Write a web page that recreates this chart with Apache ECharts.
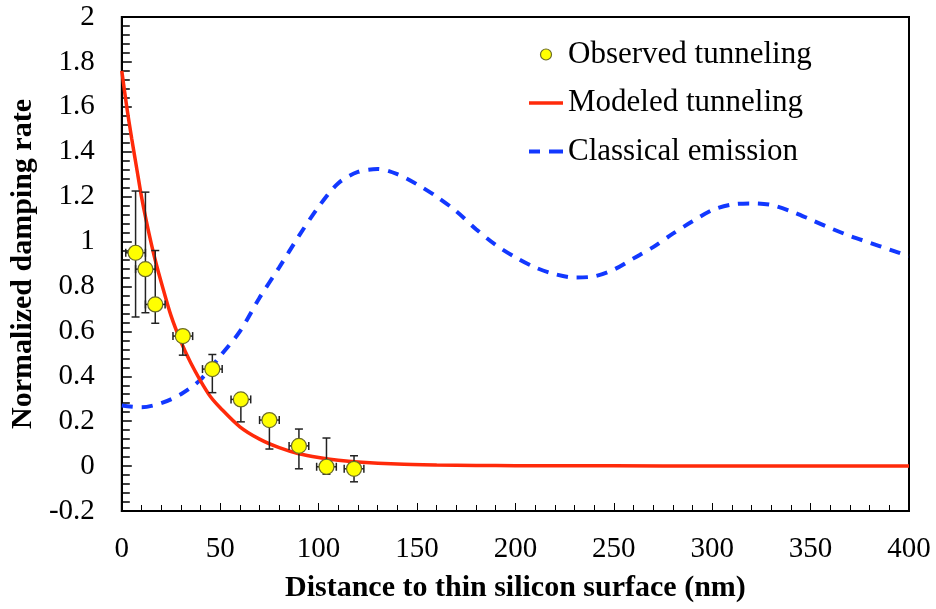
<!DOCTYPE html>
<html>
<head>
<meta charset="utf-8">
<script src="https://cdn.jsdelivr.net/npm/echarts@6/dist/echarts.min.js"></script>
<style>html,body{margin:0;padding:0;background:#fff}#c{width:936px;height:609px}</style>
</head>
<body>
<div id="c"></div>
<script>
// Observed tunneling (points with error bars)
const obsX    = [7, 12, 17, 31, 46, 60.5, 75, 90, 104, 118];
const obsY    = [0.95, 0.877, 0.72, 0.579, 0.432, 0.297, 0.205, 0.09, -0.003, -0.012];
const obsLow  = [0.664, 0.683, 0.636, 0.494, 0.327, 0.197, 0.076, -0.012, -0.036, -0.07];
const obsHigh = [1.225, 1.22, 0.96, 0.579, 0.497, 0.297, 0.205, 0.165, 0.125, 0.046];
const obsXErr = [5, 5, 5, 5, 5, 5, 5, 5, 5, 5];

// Modeled tunneling (red line)
const modX = [0, 2.5, 5, 7.5, 10, 12.5, 15, 17.5, 20, 25, 30, 35, 40, 45, 50, 60, 70, 80, 90, 100, 110, 120, 140, 160, 180, 200, 250, 300, 350, 400];
const modY = [1.76, 1.60, 1.46, 1.33, 1.20, 1.09, 0.99, 0.90, 0.82, 0.67, 0.555, 0.46, 0.38, 0.31, 0.26, 0.175, 0.12, 0.082, 0.055, 0.038, 0.026, 0.018, 0.009, 0.005, 0.003, 0.002, 0.001, 0, 0, 0];

// Classical emission (blue dashed)
const clsX = [0, 10, 20, 30, 40, 50, 60, 70, 80, 90, 100, 110, 120, 130, 140, 150, 160, 170, 180, 190, 200, 210, 220, 230, 240, 250, 260, 270, 280, 290, 300, 310, 320, 330, 340, 350, 360, 370, 380, 390, 400];
const clsY = [0.27, 0.262, 0.28, 0.32, 0.385, 0.49, 0.60, 0.75, 0.885, 1.025, 1.155, 1.26, 1.31, 1.323, 1.30, 1.255, 1.20, 1.135, 1.055, 0.985, 0.93, 0.885, 0.855, 0.84, 0.845, 0.875, 0.925, 0.975, 1.035, 1.09, 1.14, 1.165, 1.17, 1.163, 1.135, 1.098, 1.06, 1.025, 0.995, 0.965, 0.935];

const xTicks = {min: 0, max: 400, interval: 50};
const yTicks = {min: -0.2, max: 2, interval: 0.2};

const FONT = '"Liberation Serif", "Times New Roman", serif';
const RED = '#ff2a0a', BLUE = '#1238ff';
const chart = echarts.init(document.getElementById('c'), null, {renderer: 'canvas'});

const obsData = obsX.map((x, i) => [x, obsY[i]]);
const errData = obsX.map((x, i) => [x, obsY[i], obsLow[i], obsHigh[i], obsXErr[i]]);
const tickFmt = v => '{t|' + String(Math.round(v * 10) / 10) + '}';
const tickRich = {t: {fontFamily: FONT, fontSize: 29, color: '#000'}};

chart.setOption({
  animation: false,
  backgroundColor: '#fff',
  textStyle: {fontFamily: FONT, color: '#000'},
  grid: {left: 120, right: 27, top: 17, bottom: 98, show: true, borderColor: '#000', borderWidth: 2, backgroundColor: 'transparent'},
  legend: {
    orient: 'vertical', left: 529, top: 39, padding: 0, itemWidth: 34, itemHeight: 11, itemGap: 17.5,
    textStyle: {fontFamily: FONT, fontSize: 31, color: '#000', lineHeight: 31},
    data: [
      {name: 'Observed tunneling', icon: 'circle', itemStyle: {color: '#ffff00', borderColor: '#6b6b2a', borderWidth: 1.2}},
      {name: 'Modeled tunneling', icon: 'path://M0,0h34v3.5h-34z', itemStyle: {color: RED, borderWidth: 0}},
      {name: 'Classical emission', icon: 'path://M0,0h11v4h-11z M20,0h14v4h-14z', itemStyle: {color: BLUE, borderWidth: 0}}
    ]
  },
  xAxis: {
    type: 'value', min: xTicks.min, max: xTicks.max, interval: xTicks.interval,
    name: 'Distance to thin silicon surface (nm)', nameLocation: 'middle', nameGap: 62,
    nameTextStyle: {fontFamily: FONT, fontSize: 30, fontWeight: 'bold', color: '#000'},
    axisLine: {show: true, onZero: false, lineStyle: {color: '#000', width: 2}},
    axisTick: {show: true, inside: true, length: 8, lineStyle: {color: '#000', width: 1}},
    minorTick: {show: true, splitNumber: 5, length: 6, lineStyle: {color: '#000', width: 1}},
    axisLabel: {fontFamily: FONT, fontSize: 29, color: '#000', margin: 24, formatter: tickFmt, rich: tickRich},
    splitLine: {show: false}
  },
  yAxis: {
    type: 'value', min: yTicks.min, max: yTicks.max, interval: yTicks.interval,
    name: 'Normalized damping rate', nameLocation: 'middle', nameGap: 77, nameRotate: 90,
    nameTextStyle: {fontFamily: FONT, fontSize: 30, fontWeight: 'bold', color: '#000'},
    axisLine: {show: true, onZero: false, lineStyle: {color: '#000', width: 2}},
    axisTick: {show: true, inside: true, length: 10, lineStyle: {color: '#000', width: 1.5}},
    minorTick: {show: true, splitNumber: 5, length: 8, lineStyle: {color: '#000', width: 1.5}},
    axisLabel: {fontFamily: FONT, fontSize: 29, color: '#000', margin: 27, formatter: tickFmt, rich: tickRich},
    splitLine: {show: false}
  },
  series: [
    {
      name: 'Classical emission', type: 'line', smooth: 0.3, showSymbol: false, symbol: 'none',
      data: clsX.map((x, i) => [x, clsY[i]]),
      lineStyle: {color: BLUE, width: 4, type: [11, 9]},
      itemStyle: {color: BLUE}, z: 2
    },
    {
      name: 'Modeled tunneling', type: 'line', smooth: 0.3, showSymbol: false, symbol: 'none',
      data: modX.map((x, i) => [x, modY[i]]),
      lineStyle: {color: RED, width: 3.5},
      itemStyle: {color: RED}, z: 3
    },
    {
      name: 'errorbars', type: 'custom', z: 4, silent: true,
      data: errData,
      renderItem: function (params, api) {
        const x = api.value(0), y = api.value(1), lo = api.value(2), hi = api.value(3), xe = api.value(4);
        const pLo = api.coord([x, lo]), pHi = api.coord([x, hi]);
        const pL = api.coord([x - xe, y]), pR = api.coord([x + xe, y]);
        const c = 4;
        const st = {stroke: '#222', lineWidth: 1.5};
        const children = [
          {type: 'line', shape: {x1: pLo[0], y1: pLo[1], x2: pHi[0], y2: pHi[1]}, style: st},
          {type: 'line', shape: {x1: pL[0], y1: pL[1], x2: pR[0], y2: pR[1]}, style: st},
          {type: 'line', shape: {x1: pL[0], y1: pL[1] - c, x2: pL[0], y2: pL[1] + c}, style: st},
          {type: 'line', shape: {x1: pR[0], y1: pR[1] - c, x2: pR[0], y2: pR[1] + c}, style: st}
        ];
        if (hi > y) children.push({type: 'line', shape: {x1: pHi[0] - c, y1: pHi[1], x2: pHi[0] + c, y2: pHi[1]}, style: st});
        if (lo < y) children.push({type: 'line', shape: {x1: pLo[0] - c, y1: pLo[1], x2: pLo[0] + c, y2: pLo[1]}, style: st});
        return {type: 'group', children: children};
      }
    },
    {
      name: 'Observed tunneling', type: 'scatter', symbol: 'circle', symbolSize: 15, z: 5,
      data: obsData,
      itemStyle: {color: '#ffff00', borderColor: '#6b6b2a', borderWidth: 1.2, opacity: 1}
    }
  ]
});
</script>
</body>
</html>
